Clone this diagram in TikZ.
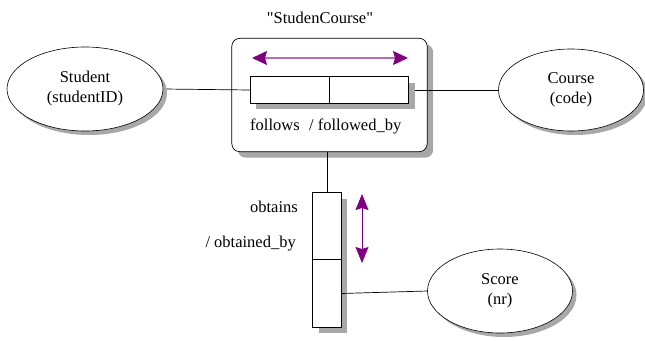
\documentclass[tikz,border=0pt]{standalone}
\usepackage{fontspec}
\setmainfont{Liberation Serif}[Ligatures=TeXOff]
\usetikzlibrary{shapes.geometric,arrows.meta,calc}

\definecolor{rolepurple}{RGB}{128,0,128}
\definecolor{rolelight}{RGB}{185,105,185}
\definecolor{shadowgray}{RGB}{168,168,168}

\begin{document}
\begin{tikzpicture}[x=1pt,y=-1pt]
\tikzset{
  lbl/.style={font=\fontsize{16.5}{20}\selectfont, inner sep=0pt},
  outline/.style={draw, fill=white, line width=0.6pt},
  container/.style={draw, fill=white, line width=0.7pt, rounded corners=8pt},
  rolebox/.style={draw, fill=white, line width=0.7pt},
  link/.style={line width=0.7pt},
  rolearrow/.style={line width=1.3pt, rolelight,
    {Stealth[inset=2pt,length=15pt,width=14pt,color=rolepurple]}-{Stealth[inset=2pt,length=15pt,width=14pt,color=rolepurple]}},
  rolearrowv/.style={line width=0.9pt, rolepurple,
    {Stealth[inset=2pt,length=16pt,width=13pt]}-{Stealth[inset=2pt,length=16pt,width=13pt]}}
}
\useasboundingbox (0,0) rectangle (645,340);

% placement of every element (outlines are drawn below, back to front)
\node[inner sep=0pt, minimum width=195pt, minimum height=113pt] (rel) at (329.5,95) {};
\node[ellipse, inner sep=0pt, minimum width=156pt, minimum height=84pt] (student) at (85,89) {};
\node[ellipse, inner sep=0pt, minimum width=145pt, minimum height=82pt] (course) at (571,90) {};
\node[ellipse, inner sep=0pt, minimum width=145pt, minimum height=84pt] (score) at (500,291) {};
\node[inner sep=0pt, minimum width=79pt, minimum height=26pt] (fa) at (290,90) {};
\node[inner sep=0pt, minimum width=79pt, minimum height=26pt] (fb) at (369,90) {};
\node[inner sep=0pt, minimum width=28pt, minimum height=67pt] (oa) at (327,226.5) {};
\node[inner sep=0pt, minimum width=28pt, minimum height=67pt] (ob) at (327,293.5) {};

% objectified relationship frame with its shadow
\fill[shadowgray, rounded corners=8pt] ($(rel.north west)+(6,6)$)
  rectangle ($(rel.south east)+(6,6)$);
\draw[container] (rel.north west) rectangle (rel.south east);

% connectors between roles and entity types
\draw[link] (student.east) -- (fa.west);
\draw[link] (fb.east) -- (course.west);
\draw[link] (rel.south -| oa.north) -- (oa.north);

% role boxes with their shadows
\fill[shadowgray] ($(fa.north west)+(6,6)$) rectangle ($(fb.south east)+(6,6)$);
\fill[shadowgray] ($(oa.north west)+(6,6)$) rectangle ($(ob.south east)+(6,6)$);
\draw[rolebox] (fa.north west) rectangle (fa.south east);
\draw[rolebox] (fb.north west) rectangle (fb.south east);
\draw[rolebox] (oa.north west) rectangle (oa.south east);
\draw[rolebox] (ob.north west) rectangle (ob.south east);
\draw[link] (ob.east) -- (score.west);

% entity types: shadow and outline
\fill[shadowgray] ($(student.center)+(4,4)$) ellipse [x radius=78, y radius=42];
\path[outline] (student.center) ellipse [x radius=78, y radius=42];
\fill[shadowgray] ($(course.center)+(4,4)$) ellipse [x radius=72.5, y radius=41];
\path[outline] (course.center) ellipse [x radius=72.5, y radius=41];
\fill[shadowgray] ($(score.center)+(4,4)$) ellipse [x radius=72.5, y radius=42];
\path[outline] (score.center) ellipse [x radius=72.5, y radius=42];

% texts
\node[lbl] (title) at (320,18) {"StudenCourse"};
\node[lbl, align=center] (tstudent) at (student.center) {Student\\(studentID)};
\node[lbl, align=center] (tcourse) at (course.center) {Course\\(code)};
\node[lbl, align=center] (tscore) at (score.center) {Score\\(nr)};
\node[lbl, anchor=base west] (lfa) at (250,130) {follows};
\node[lbl, anchor=base west] (lfb) at (309,130) {/ followed\_by};
\node[lbl, anchor=base east] (loa) at (298,212) {obtains};
\node[lbl, anchor=base east] (lob) at (296,247) {/ obtained\_by};

% reading directions
\coordinate (hl) at (252,58);
\coordinate (hr) at (408,58);
\draw[rolearrow] (hl) -- (hr);
\coordinate (vt) at (362,194);
\coordinate (vb) at (362,263);
\draw[rolearrowv] (vt) -- (vb);
\end{tikzpicture}
\end{document}
